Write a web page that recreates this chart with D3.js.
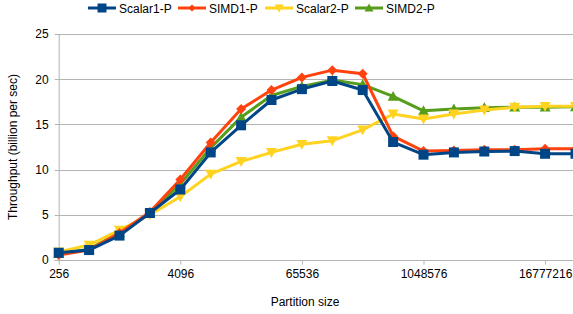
<!DOCTYPE html>
<html>
<head>
<meta charset="utf-8">
<script src="https://cdn.jsdelivr.net/npm/d3@7"></script>
<style>
    html, body { margin: 0; padding: 0; background: #fff; }
    svg { display: block; font-family: "Liberation Sans", Arial, sans-serif; }
</style>
</head>
<body>
<svg id="chart" width="573" height="314"></svg>
<script>
// Partition sizes 2^8 .. 2^25
const sizes = d3.range(8, 26).map(p => Math.pow(2, p));
const xTickLabels = [256, 4096, 65536, 1048576, 16777216];
const yTicks = [0, 5, 10, 15, 20, 25];

const scalar1 = [0.8, 1.1, 2.7, 5.2, 7.8, 11.9, 14.9, 17.7, 18.9, 19.8, 18.8, 13.05, 11.65, 11.9, 12.0, 12.05, 11.75, 11.75];
const simd1   = [0.55, 1.1, 3.0, 5.3, 8.9, 13.0, 16.7, 18.8, 20.2, 21.0, 20.6, 13.7, 12.05, 12.1, 12.2, 12.2, 12.3, 12.3];
const scalar2 = [0.9, 1.65, 3.3, 5.0, 7.0, 9.5, 10.9, 11.9, 12.8, 13.2, 14.4, 16.15, 15.6, 16.15, 16.6, 16.9, 17.0, 17.0];
const simd2   = [0.7, 1.2, 3.0, 5.2, 8.4, 12.4, 15.8, 18.2, 19.2, 19.9, 19.4, 18.1, 16.5, 16.7, 16.85, 16.9, 16.9, 16.95];

const series = [
    { name: 'Scalar1-P', values: scalar1, color: '#004586', marker: 'square' },
    { name: 'SIMD1-P',   values: simd1,   color: '#ff420e', marker: 'diamond' },
    { name: 'Scalar2-P', values: scalar2, color: '#ffd320', marker: 'down' },
    { name: 'SIMD2-P',   values: simd2,   color: '#579d1c', marker: 'up' },
];

const svg = d3.select('#chart');
const plot = { left: 58.7, right: 580, top: 34, bottom: 260 };

const x = d3.scaleLog().base(2)
    .domain([sizes[0], sizes[sizes.length - 1]])
    .range([plot.left, 575.5]);
const y = d3.scaleLinear().domain([0, 25]).range([plot.bottom, plot.top]);

// Gridlines
svg.append('g')
    .selectAll('line')
    .data(yTicks)
    .enter()
    .append('line')
    .attr('x1', plot.left - 4)
    .attr('x2', plot.right)
    .attr('y1', d => Math.round(y(d)) + 0.5)
    .attr('y2', d => Math.round(y(d)) + 0.5)
    .attr('stroke', '#b3b3b3')
    .attr('stroke-width', 1);

// Y axis
const yAxis = d3.axisLeft(y).tickValues(yTicks).tickSize(0).tickPadding(10);
const yg = svg.append('g')
    .attr('transform', `translate(${plot.left},0)`)
    .call(yAxis);
yg.select('.domain').attr('stroke', '#b3b3b3');
yg.selectAll('text').attr('font-size', 12).attr('fill', '#000')
    .attr('font-family', '"Liberation Sans", Arial, sans-serif');

// X axis
const xAxis = d3.axisBottom(x).tickValues(xTickLabels).tickSize(4).tickPadding(5)
    .tickFormat(d3.format('d'));
const xg = svg.append('g')
    .attr('transform', `translate(0,${Math.round(plot.bottom) + 0.5})`)
    .call(xAxis);
xg.select('.domain').remove();
xg.selectAll('.tick line').attr('stroke', '#b3b3b3');
xg.selectAll('text').attr('font-size', 12).attr('fill', '#000')
    .attr('font-family', '"Liberation Sans", Arial, sans-serif');
svg.append('line')
    .attr('x1', plot.left - 4).attr('x2', plot.right)
    .attr('y1', Math.round(plot.bottom) + 0.5).attr('y2', Math.round(plot.bottom) + 0.5)
    .attr('stroke', '#b3b3b3');

// Axis titles
svg.append('text')
    .attr('x', 305).attr('y', 306)
    .attr('text-anchor', 'middle')
    .attr('font-size', 12)
    .text('Partition size');

svg.append('text')
    .attr('transform', `translate(17,${(plot.top + plot.bottom) / 2}) rotate(-90)`)
    .attr('text-anchor', 'middle')
    .attr('font-size', 12)
    .text('Throughput (billion per sec)');

// Markers
function markerPath(type, s) {
    switch (type) {
        case 'square':  return `M${-s},${-s}H${s}V${s}H${-s}Z`;
        case 'diamond': return `M0,${-s}L${s},0L0,${s}L${-s},0Z`;
        case 'down':    return `M${-s},${-s * 0.8}L${s},${-s * 0.8}L0,${s}Z`;
        case 'up':      return `M${-s},${s * 0.8}L${s},${s * 0.8}L0,${-s}Z`;
    }
}
const markerSize = { square: 5, diamond: 5, down: 5.5, up: 5.5 };

const line = d3.line()
    .x((d, i) => x(sizes[i]))
    .y(d => y(d));

// Draw bottom-up so Scalar1-P ends on top
const seriesG = svg.append('g');
series.slice().reverse().forEach(s => {
    const g = seriesG.append('g');
    g.append('path')
        .datum(s.values)
        .attr('d', line)
        .attr('fill', 'none')
        .attr('stroke', s.color)
        .attr('stroke-width', 3)
        .attr('stroke-linejoin', 'round');
    g.selectAll('path.m')
        .data(s.values)
        .enter()
        .append('path')
        .attr('class', 'm')
        .attr('d', markerPath(s.marker, markerSize[s.marker]))
        .attr('transform', (d, i) => `translate(${x(sizes[i])},${y(d)})`)
        .attr('fill', s.color);
});

// Legend
const legendX = [88, 178, 265, 355];
const legend = svg.append('g');
series.forEach((s, i) => {
    const g = legend.append('g').attr('transform', `translate(${legendX[i]},8)`);
    g.append('line')
        .attr('x1', 0).attr('x2', 28)
        .attr('stroke', s.color).attr('stroke-width', 3);
    g.append('path')
        .attr('d', markerPath(s.marker, s.marker === 'diamond' ? 3.5 : 4.5))
        .attr('transform', 'translate(14,0)')
        .attr('fill', s.color);
    g.append('text')
        .attr('x', 31).attr('y', 4.5)
        .attr('font-size', 12)
        .text(s.name);
});
</script>
</body>
</html>
